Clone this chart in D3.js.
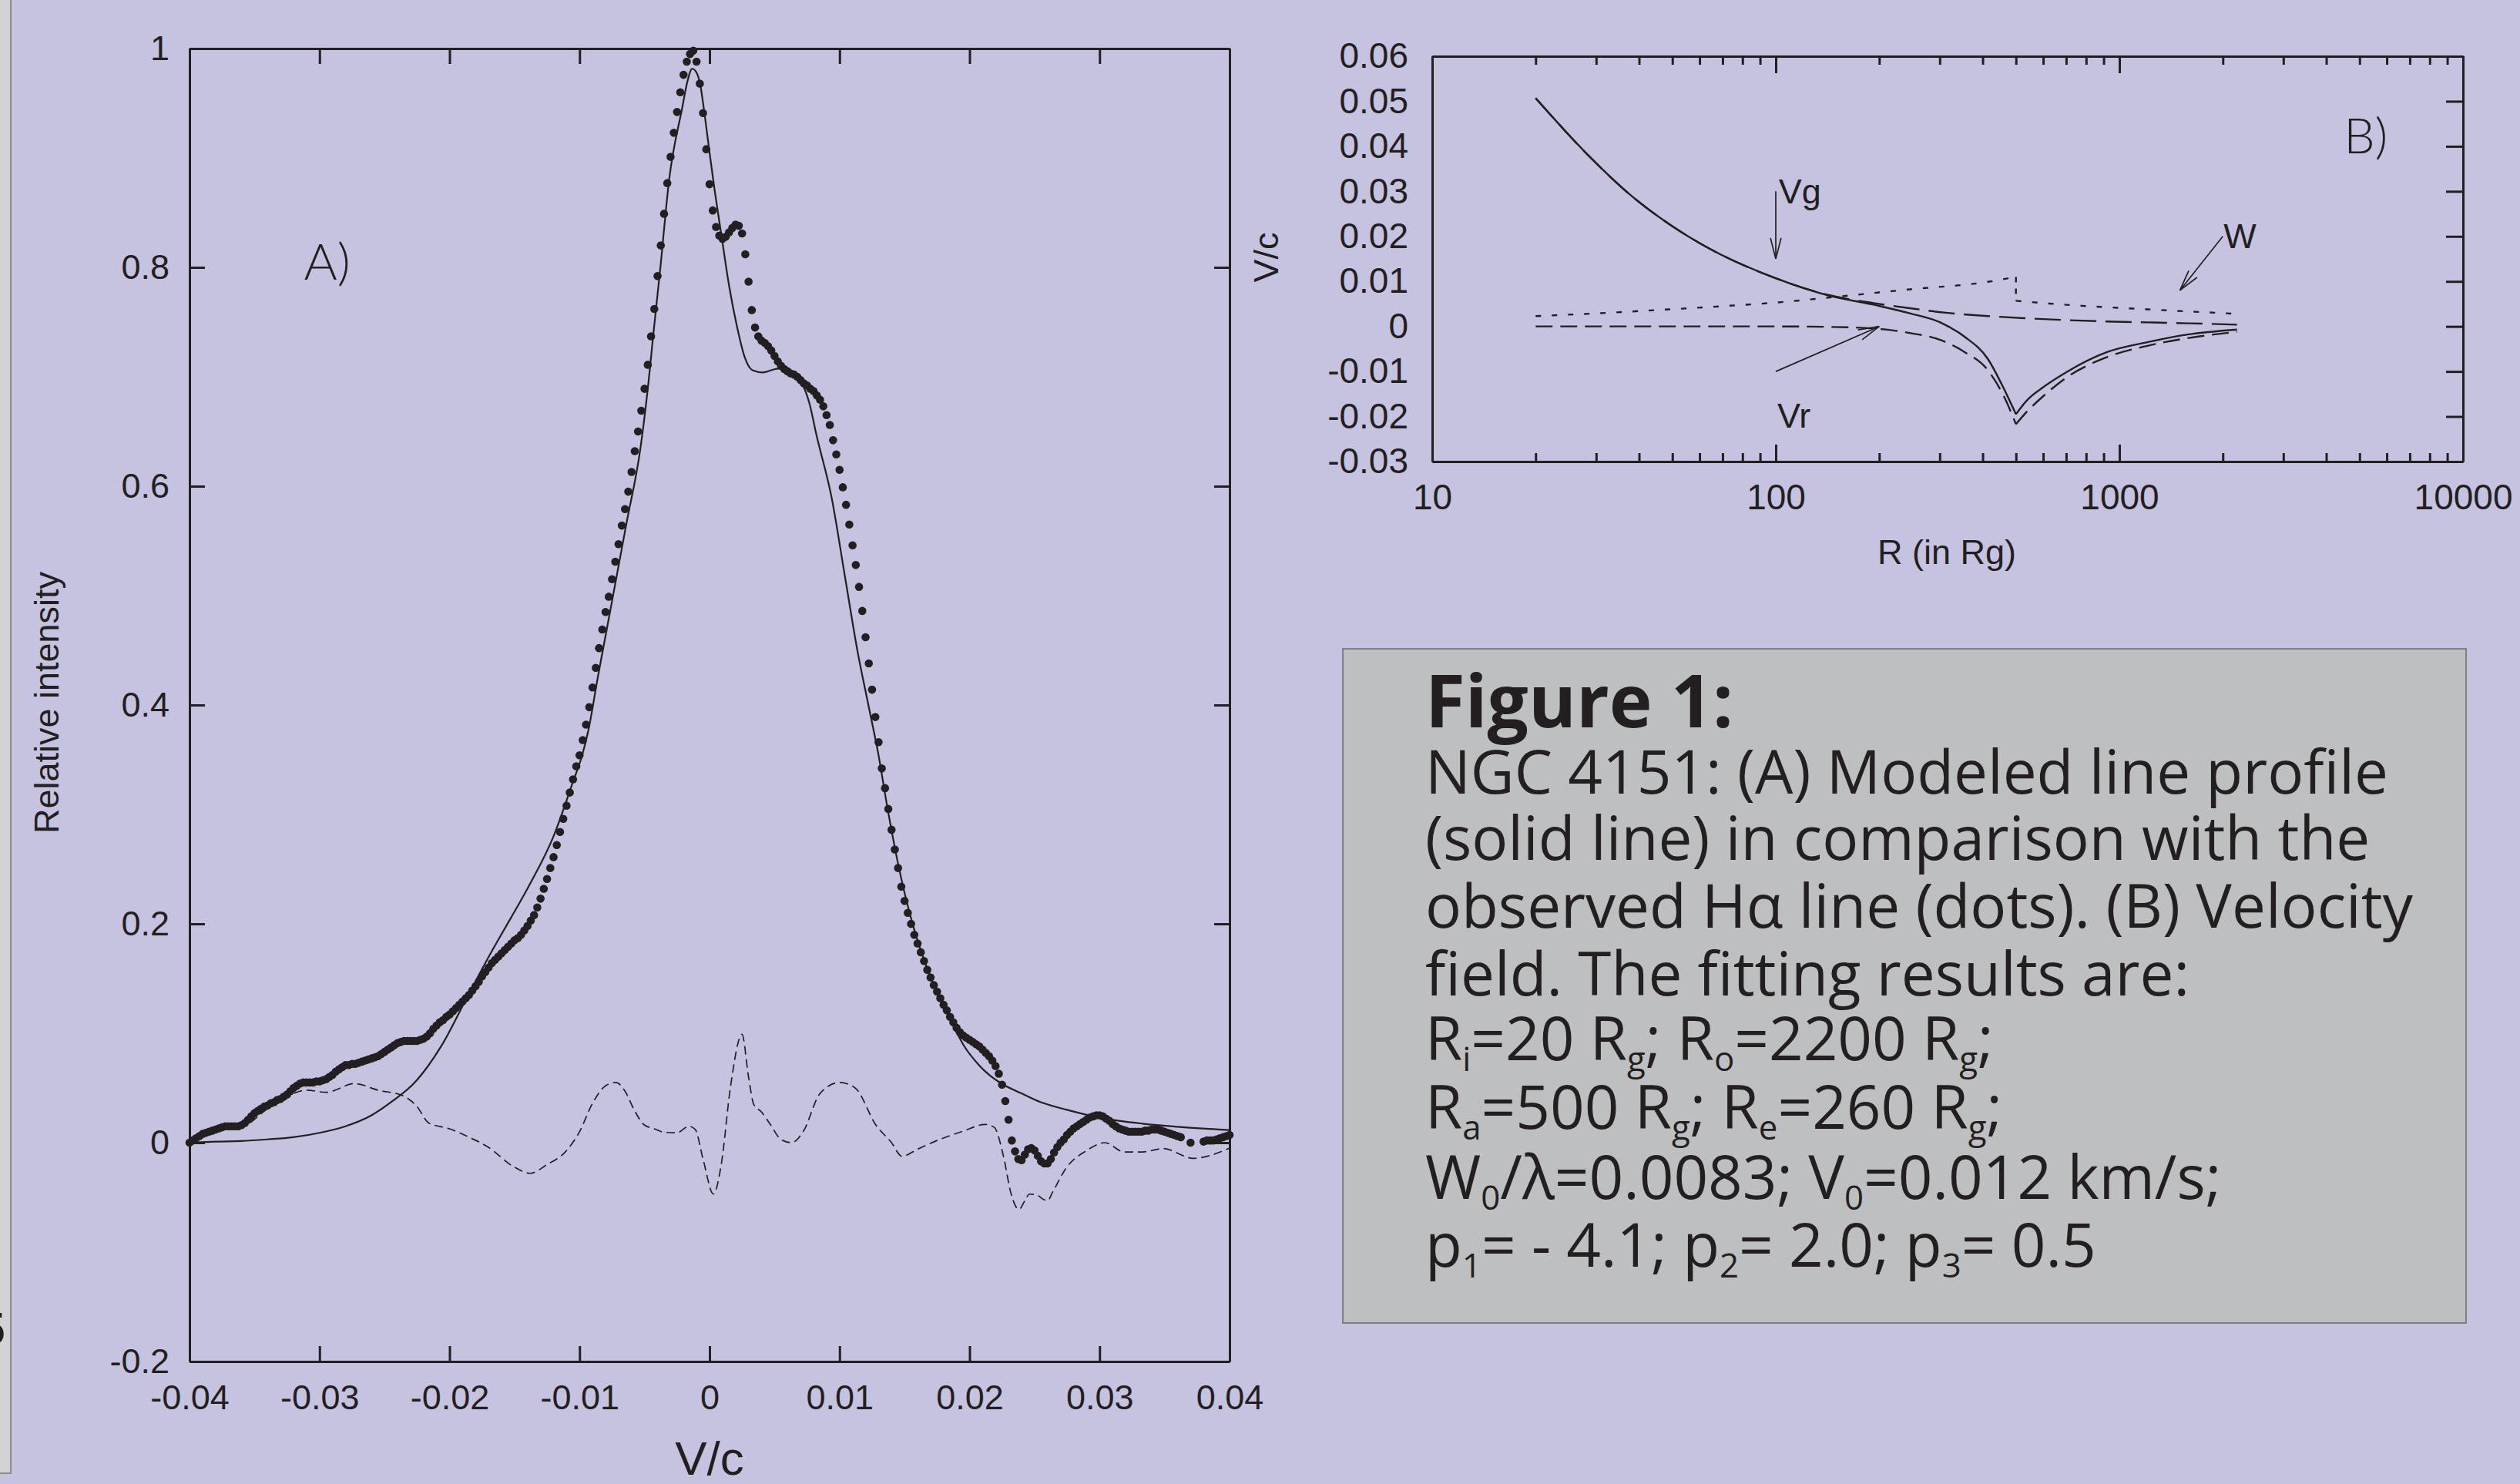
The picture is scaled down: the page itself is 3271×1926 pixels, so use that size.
<!DOCTYPE html>
<html>
<head>
<meta charset="utf-8">
<script src="https://cdnjs.cloudflare.com/ajax/libs/d3/7.8.5/d3.min.js"></script>
<style>
  body { margin: 0; background: #c6c3e0; }
  svg { display: block; }
</style>
</head>
<body>
<div id="chart"></div>
<script>
// NGC 4151 figure: (A) H-alpha line profile, (B) velocity field, caption box

// ----- panel A: observed profile, one value every 0.00025 in V/c (null = no point) -----
const obsStart = -0.04, obsStep = 0.00025;
const observed = [
  0, .002, .004, .006, .008, .009, .010, .011, .012, .013,
  .014, .015, .015, .015, .015, .015, .016, .018, .021, .024,
  .027, .029, .031, .033, .034, .036, .037, .039, .040, .042,
  .044, .047, .050, .052, .054, .055, .055, .055, .055, .056,
  .056, .057, .058, .060, .062, .065, .067, .069, .071, .071,
  .072, .072, .073, .074, .075, .076, .077, .078, .079, .081,
  .083, .085, .087, .089, .091, .092, .093, .093, .093, .093,
  .093, .094, .095, .097, .100, .104, .107, .110, .112, .115,
  .117, .120, .123, .126, .129, .132, .135, .139, .143, .147,
  .152, .156, .160, .164, .167, .170, .173, .176, .179, .182,
  .185, .187, .190, .194, .198, .203, .208, .215, .223, .232,
  .241, .251, .261, .272, .284, .296, .308, .320, .332, .344,
  .354, .368, .382, .398, .416, .434, .452, .469, .485, .499,
  .515, .531, .547, .564, .579, .595, .613, .632, .650, .669,
  .689, .711, .737, .762, .792, .820, .849, .877, .901, .923,
  .942, .960, .976, .988, .995, .998, .988, .968, .941, .908,
  .876, .852, .837, .829, .826, .828, .832, .836, .839, .838,
  .831, .812, .787, .761, .745, .737, .733, .731, .728, .724,
  .719, .714, .710, .707, .705, .703, .702, .700, .697, .694,
  .692, .689, .687, .683, .679, .673, .665, .656, .642, .629,
  .615, .599, .583, .565, .546, .528, .508, .486, .462, .438,
  .414, .389, .366, .342, .324, .305, .286, .268, .251, .234,
  .221, .210, .200, .190, .182, .174, .166, .158, .151, .144,
  .138, .132, .126, .121, .115, .110, .105, .101, .098, .096,
  .094, .092, .090, .088, .085, .082, .079, .075, .070, .063,
  .053, .038, .021, .002, -.008, -.015, -.016, -.011, -.006, -.005,
  -.007, -.012, -.017, -.019, -.019, -.015, -.009, -.004, .000, .003,
  .007, .010, .013, .015, .017, .019, .021, .023, .024, .025,
  .025, .024, .022, .020, .017, .015, .013, .012, .011, .010,
  .010, .010, .010, .010, .011, .011, .012, .012, .012, .011,
  .010, .009, .008, .007, .006, .005, null, null, .000, null,
  null, null, .001, .002, .002, .002, .003, .004, .005, .006, .007
];

// modelled profile (solid line), [V/c, intensity]
const model = [
  [-0.04, 0], [-0.038, 0.001], [-0.036, 0.0015], [-0.034, 0.003], [-0.032, 0.005],
  [-0.03, 0.009], [-0.028, 0.015], [-0.026, 0.025], [-0.0245, 0.037], [-0.0226, 0.056],
  [-0.0206, 0.089], [-0.0186, 0.134], [-0.0167, 0.176], [-0.0153, 0.205], [-0.0139, 0.2345],
  [-0.012, 0.28], [-0.0105, 0.33], [-0.0098, 0.354], [-0.0093, 0.378], [-0.0086, 0.425],
  [-0.0075, 0.495], [-0.0064, 0.5655], [-0.0053, 0.636], [-0.0046, 0.706], [-0.0044, 0.73],
  [-0.00378, 0.80], [-0.00311, 0.88], [-0.0021, 0.946], [-0.0017, 0.970], [-0.00134, 0.9815],
  [-0.001, 0.978], [-0.0007, 0.966], [-0.00045, 0.946], [0, 0.905], [0.00034, 0.875],
  [0.00093, 0.828], [0.00152, 0.782], [0.00211, 0.746], [0.0027, 0.718], [0.0033, 0.706],
  [0.0041, 0.704], [0.0053, 0.7075], [0.0062, 0.704], [0.0071, 0.694], [0.0077, 0.675],
  [0.0082, 0.648], [0.0094, 0.589], [0.0104, 0.5185], [0.0114, 0.448], [0.0122, 0.401],
  [0.013, 0.354], [0.0137, 0.305], [0.0145, 0.255], [0.0155, 0.205], [0.0165, 0.167],
  [0.0175, 0.137], [0.0187, 0.108], [0.0196, 0.088], [0.0206, 0.0725], [0.0215, 0.062],
  [0.0225, 0.0537], [0.024, 0.045], [0.0254, 0.0373], [0.0275, 0.030], [0.0294, 0.0244],
  [0.0315, 0.020], [0.0333, 0.0174], [0.036, 0.0145], [0.04, 0.0115]
];

// observed minus model (dashed line)
const residual = [
  [-0.04, 0], [-0.038, 0.011], [-0.036, 0.014], [-0.034, 0.031], [-0.0322, 0.044],
  [-0.031, 0.048], [-0.0295, 0.046], [-0.0273, 0.054], [-0.0255, 0.048], [-0.0236, 0.043],
  [-0.0225, 0.033], [-0.0216, 0.018], [-0.02, 0.0127], [-0.0185, 0.005], [-0.0171, -0.0035],
  [-0.015, -0.0225], [-0.0138, -0.028], [-0.0125, -0.02], [-0.0111, -0.0085], [-0.01, 0.01],
  [-0.009, 0.036], [-0.008, 0.052], [-0.0072, 0.055], [-0.0065, 0.047], [-0.0058, 0.030],
  [-0.005, 0.016], [-0.0043, 0.013], [-0.0035, 0.0095], [-0.0025, 0.009], [-0.0016, 0.015],
  [-0.0011, 0.012], [-0.0005, -0.015], [0.0003, -0.047], [0.0009, -0.02], [0.0016, 0.05],
  [0.0025, 0.099], [0.003, 0.06], [0.0034, 0.035], [0.004, 0.028], [0.0046, 0.018],
  [0.0055, 0.003], [0.0063, 0], [0.0072, 0.01], [0.0085, 0.045], [0.01, 0.055],
  [0.0112, 0.05], [0.0128, 0.016], [0.014, 0], [0.0148, -0.0125], [0.016, -0.006],
  [0.0175, 0.002], [0.0195, 0.0105], [0.0212, 0.0167], [0.0219, 0.014], [0.0226, -0.012],
  [0.0232, -0.047], [0.0238, -0.061], [0.0243, -0.052], [0.0246, -0.047], [0.0252, -0.048],
  [0.0257, -0.052], [0.026, -0.053], [0.0264, -0.045], [0.0274, -0.0237], [0.029, -0.0073],
  [0.0304, 0], [0.0319, -0.0085], [0.0333, -0.0085], [0.0349, -0.0054], [0.0372, -0.0143],
  [0.04, -0.005]
];

const xTicksA = [-0.04, -0.03, -0.02, -0.01, 0, 0.01, 0.02, 0.03, 0.04];
const xTickLabelsA = ["-0.04", "-0.03", "-0.02", "-0.01", "0", "0.01", "0.02", "0.03", "0.04"];
const yTicksA = [-0.2, 0, 0.2, 0.4, 0.6, 0.8, 1];
const yTickLabelsA = ["-0.2", "0", "0.2", "0.4", "0.6", "0.8", "1"];

// ----- panel B: velocities against R (in Rg), split at the Ra = 500 cusp -----
const vTotalIn = [[20, 0.0507], [28.8, 0.0376], [37.6, 0.0293], [49, 0.0227], [64, 0.0173],
  [100, 0.0107], [142, 0.0069], [196, 0.0047], [243, 0.003], [301, 0.0009], [353, -0.0022],
  [414, -0.0072], [461, -0.0138], [500, -0.0195]];
const vTotalOut = [[500, -0.0195], [540, -0.0163], [600, -0.0135], [703, -0.0101],
  [921, -0.0057], [1207, -0.0035], [1580, -0.0018], [2200, -0.0007]];
const vRadialIn = [[20, 0], [50, 0], [100, 0], [142, -0.0001], [196, -0.0005], [243, -0.0014],
  [301, -0.003], [353, -0.0056], [414, -0.0097], [461, -0.0155], [500, -0.0217]];
const vRadialOut = [[500, -0.0217], [540, -0.0188], [600, -0.0155], [703, -0.0113],
  [921, -0.0068], [1207, -0.0043], [1580, -0.0026], [2200, -0.0012]];
const vGrav = [[20, 0.0507], [28.8, 0.0376], [37.6, 0.0293], [49, 0.0227], [64, 0.0173],
  [100, 0.0107], [142, 0.007], [196, 0.0051], [243, 0.0041], [317, 0.003], [414, 0.0023],
  [540, 0.0018], [703, 0.0014], [921, 0.0011], [1207, 0.0009], [1580, 0.0007], [2200, 0.0004]];
const wIn = [[20, 0.0023], [30, 0.0029], [49, 0.0038], [70, 0.0045], [100, 0.0053],
  [142, 0.0064], [243, 0.0082], [414, 0.0099], [500, 0.011]];
const wOut = [[500, 0.0057], [703, 0.0048], [1207, 0.0038], [2200, 0.0028]];

const xTicksB = [10, 100, 1000, 10000];
const xTickLabelsB = ["10", "100", "1000", "10000"];
const xMinorB = [20, 30, 40, 50, 60, 70, 80, 90, 200, 300, 400, 500, 600, 700, 800, 900,
  2000, 3000, 4000, 5000, 6000, 7000, 8000, 9000];
const yTicksB = [0.06, 0.05, 0.04, 0.03, 0.02, 0.01, 0, -0.01, -0.02, -0.03];
const yTickLabelsB = ["0.06", "0.05", "0.04", "0.03", "0.02", "0.01", "0", "-0.01", "-0.02", "-0.03"];

// annotation arrows and labels in panel B, data units
const arrowsB = [
  { from: [100, 0.03], to: [100, 0.015] },
  { from: [2000, 0.02], to: [1500, 0.008] },
  { from: [100, -0.01], to: [200, 0] }
];
const labelsB = [
  { text: "Vg", r: 102, v: 0.0273 },
  { text: "W", r: 2010, v: 0.0174 },
  { text: "Vr", r: 101, v: -0.0225 }
];

// caption text; segments flagged 1 are subscripts
const captionTitle = "Figure 1:";
const captionLines = [
  [["NGC 4151: (A) Modeled line profile"]],
  [["(solid line) in comparison with the"]],
  [["observed H\u03b1 line (dots). (B) Velocity"]],
  [["field. The fitting results are:"]],
  [["R"], ["i", 1], ["=20 R"], ["g", 1], ["; R"], ["o", 1], ["=2200 R"], ["g", 1], [";"]],
  [["R"], ["a", 1], ["=500 R"], ["g", 1], ["; R"], ["e", 1], ["=260 R"], ["g", 1], [";"]],
  [["W"], ["0", 1], ["/\u03bb=0.0083; V"], ["0", 1], ["=0.012 km/s;"]],
  [["p"], ["1", 1], ["= - 4.1; p"], ["2", 1], ["= 2.0; p"], ["3", 1], ["= 0.5"]]
];

// ---------------------------------------------------------------------------
const W = 3271, H = 1926;
const ink = "#231f20";
const sans = "'Liberation Sans', Arial, Helvetica, sans-serif";

const svg = d3.select("#chart").append("svg")
  .attr("width", W)
  .attr("height", H);

svg.append("rect").attr("width", W).attr("height", H).attr("fill", "#c6c3e0");

// grey strip on the left edge (neighbouring page)
svg.append("rect")
  .attr("x", -4).attr("y", -4).attr("width", 18).attr("height", 1916)
  .attr("fill", "#d3d3d6").attr("stroke", "#8c8c8c").attr("stroke-width", 2);
svg.append("text")
  .attr("x", -27).attr("y", 1745)
  .attr("font-family", sans).attr("font-size", 60).attr("font-weight", "bold")
  .attr("fill", ink).text("5");

function styleAxis(g, size) {
  g.attr("font-size", size).attr("font-family", sans);
  g.selectAll("path, line").attr("stroke", ink).attr("stroke-width", 3);
  g.selectAll("text").attr("fill", ink);
}

// ----- panel A -----
const xA = d3.scaleLinear().domain([-0.04, 0.04]).range([246, 1596]);
const yA = d3.scaleLinear().domain([-0.2, 1]).range([1767, 63]);
const gA = svg.append("g");

gA.append("g").attr("transform", `translate(0,${yA(-0.2)})`)
  .call(d3.axisBottom(xA).tickValues(xTicksA).tickFormat((d, i) => xTickLabelsA[i])
    .tickSize(-20).tickSizeOuter(0).tickPadding(30))
  .call(styleAxis, 45);
gA.append("g").attr("transform", `translate(0,${yA(1)})`)
  .call(d3.axisTop(xA).tickValues(xTicksA).tickFormat("").tickSize(-20).tickSizeOuter(0))
  .call(styleAxis, 45);
gA.append("g").attr("transform", `translate(${xA(-0.04)},0)`)
  .call(d3.axisLeft(yA).tickValues(yTicksA).tickFormat((d, i) => yTickLabelsA[i])
    .tickSize(-20).tickSizeOuter(0).tickPadding(26))
  .call(styleAxis, 45);
gA.append("g").attr("transform", `translate(${xA(0.04)},0)`)
  .call(d3.axisRight(yA).tickValues(yTicksA).tickFormat("").tickSize(-20).tickSizeOuter(0))
  .call(styleAxis, 45);

const lineA = d3.line().x(d => xA(d[0])).y(d => yA(d[1])).curve(d3.curveMonotoneX);

gA.append("path").datum(residual)
  .attr("d", lineA).attr("fill", "none")
  .attr("stroke", ink).attr("stroke-width", 1.7).attr("stroke-dasharray", "11,6");

gA.append("path").datum(model)
  .attr("d", lineA).attr("fill", "none")
  .attr("stroke", ink).attr("stroke-width", 2.2);

const obsPoints = observed
  .map((v, i) => [obsStart + i * obsStep, v])
  .filter(d => d[1] !== null);

gA.append("g").selectAll("circle")
  .data(obsPoints)
  .join("circle")
  .attr("cx", d => xA(d[0]))
  .attr("cy", d => yA(d[1]))
  .attr("r", 5.3)
  .attr("fill", ink);

gA.append("text")
  .attr("x", xA(-0.0312)).attr("y", yA(0.789))
  .attr("font-family", "Lato, 'DejaVu Sans', sans-serif").attr("font-weight", 300)
  .attr("font-size", 66).attr("fill", ink).text("A)");

gA.append("text")
  .attr("transform", `translate(60,912) rotate(-90)`)
  .attr("text-anchor", "middle").attr("dy", "0.35em")
  .attr("font-family", sans).attr("font-size", 45).attr("fill", ink)
  .text("Relative intensity");

gA.append("text")
  .attr("x", xA(0)).attr("y", 1914)
  .attr("text-anchor", "middle")
  .attr("font-family", sans).attr("font-size", 62).attr("fill", ink)
  .text("V/c");

// ----- panel B -----
const xB = d3.scaleLog().domain([10, 10000]).range([1859, 3197]);
const yB = d3.scaleLinear().domain([-0.03, 0.06]).range([599, 73]);
const gB = svg.append("g");

gB.append("g").attr("transform", `translate(0,${yB(-0.03)})`)
  .call(d3.axisBottom(xB).tickValues(xTicksB).tickFormat((d, i) => xTickLabelsB[i])
    .tickSize(-22).tickSizeOuter(0).tickPadding(29))
  .call(styleAxis, 46);
gB.append("g").attr("transform", `translate(0,${yB(-0.03)})`)
  .call(d3.axisBottom(xB).tickValues(xMinorB).tickFormat("").tickSize(-11).tickSizeOuter(0))
  .call(styleAxis, 46);
gB.append("g").attr("transform", `translate(0,${yB(0.06)})`)
  .call(d3.axisTop(xB).tickValues(xTicksB).tickFormat("").tickSize(-22).tickSizeOuter(0))
  .call(styleAxis, 46);
gB.append("g").attr("transform", `translate(0,${yB(0.06)})`)
  .call(d3.axisTop(xB).tickValues(xMinorB).tickFormat("").tickSize(-11).tickSizeOuter(0))
  .call(styleAxis, 46);
gB.append("g").attr("transform", `translate(${xB(10)},0)`)
  .call(d3.axisLeft(yB).tickValues(yTicksB).tickFormat((d, i) => yTickLabelsB[i])
    .tickSize(0).tickSizeOuter(0).tickPadding(31))
  .call(styleAxis, 46);
gB.append("g").attr("transform", `translate(${xB(10000)},0)`)
  .call(d3.axisRight(yB).tickValues(yTicksB).tickFormat("").tickSize(-22).tickSizeOuter(0))
  .call(styleAxis, 46);

const lineB = d3.line().x(d => xB(d[0])).y(d => yB(d[1])).curve(d3.curveMonotoneX);
const lineStraight = d3.line().x(d => xB(d[0])).y(d => yB(d[1]));

function drawB(data, dash, gen) {
  gB.append("path").datum(data)
    .attr("d", gen || lineB).attr("fill", "none")
    .attr("stroke", ink).attr("stroke-width", 2.4)
    .attr("stroke-dasharray", dash);
}
drawB(vGrav, "34,12");
drawB(vRadialIn, "22,10");
drawB(vRadialOut, "22,10");
drawB(vTotalIn, null);
drawB(vTotalOut, null);
drawB(wIn, "7,14");
drawB([wIn[wIn.length - 1], wOut[0]], "7,8", lineStraight);
drawB(wOut, "7,14");

arrowsB.forEach(a => {
  const x1 = xB(a.from[0]), y1 = yB(a.from[1]);
  const x2 = xB(a.to[0]), y2 = yB(a.to[1]);
  const ang = Math.atan2(y2 - y1, x2 - x1);
  const g = gB.append("g").attr("stroke", ink).attr("stroke-width", 1.7);
  g.append("line").attr("x1", x1).attr("y1", y1).attr("x2", x2).attr("y2", y2);
  [0.25, -0.25].forEach(s => {
    g.append("line")
      .attr("x1", x2).attr("y1", y2)
      .attr("x2", x2 + 28 * Math.cos(ang + Math.PI + s))
      .attr("y2", y2 + 28 * Math.sin(ang + Math.PI + s));
  });
});

gB.selectAll(".blabel")
  .data(labelsB)
  .join("text")
  .attr("class", "blabel")
  .attr("x", d => xB(d.r)).attr("y", d => yB(d.v))
  .attr("font-family", sans).attr("font-size", 45).attr("fill", ink)
  .text(d => d.text);

gB.append("text")
  .attr("x", xB(4500)).attr("y", yB(0.0385))
  .attr("font-family", "Lato, 'DejaVu Sans', sans-serif").attr("font-weight", 300)
  .attr("font-size", 64).attr("fill", ink).text("B)");

gB.append("text")
  .attr("x", 2527).attr("y", 732)
  .attr("text-anchor", "middle")
  .attr("font-family", sans).attr("font-size", 45).attr("fill", ink)
  .text("R (in Rg)");

gB.append("text")
  .attr("transform", `translate(1643,334) rotate(-90)`)
  .attr("text-anchor", "middle").attr("dy", "0.35em")
  .attr("font-family", sans).attr("font-size", 45).attr("fill", ink)
  .text("V/c");

// ----- caption box -----
const gC = svg.append("g");
gC.append("rect")
  .attr("x", 1743).attr("y", 842).attr("width", 1458).attr("height", 875)
  .attr("fill", "#bebfc1").attr("stroke", "#7f7f7f").attr("stroke-width", 2);

const capFont = "'Open Sans', 'Noto Sans', sans-serif";
const capX = 1850;
const capBaselines = [1030, 1116, 1204, 1292, 1376, 1465, 1556, 1644];

const title = gC.append("text")
  .attr("x", capX).attr("y", 944)
  .attr("font-family", capFont).attr("font-weight", "bold")
  .attr("font-size", 100).attr("fill", ink)
  .text(captionTitle);
title.attr("font-size", 100 * 400 / title.node().getComputedTextLength());

// size the body so the first line spans the same width as in the figure
const probe = gC.append("text").attr("font-family", capFont).attr("font-size", 100)
  .text(captionLines[0][0][0]);
const capSize = 100 * 1250 / probe.node().getComputedTextLength();
probe.remove();

captionLines.forEach((segs, li) => {
  const t = gC.append("text")
    .attr("x", capX).attr("y", capBaselines[li])
    .attr("font-family", capFont).attr("font-size", capSize).attr("fill", ink);
  let shifted = false;
  segs.forEach(s => {
    const sp = t.append("tspan").text(s[0]);
    if (s[1]) {
      sp.attr("font-size", capSize * 0.56).attr("dy", capSize * 0.18);
      shifted = true;
    } else if (shifted) {
      sp.attr("dy", -capSize * 0.18);
      shifted = false;
    }
  });
});
</script>
</body>
</html>
